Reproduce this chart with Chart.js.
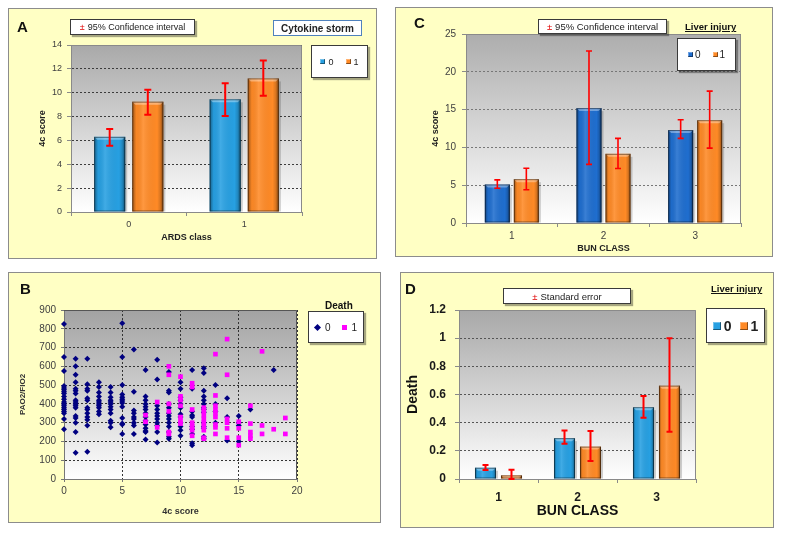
<!DOCTYPE html>
<html><head><meta charset="utf-8">
<script src="https://cdn.jsdelivr.net/npm/chart.js@4.4.0/dist/chart.umd.min.js"></script>
<style>
body{margin:0;width:785px;height:537px;background:#fff;position:relative;overflow:hidden;font-family:"Liberation Sans",Arial,sans-serif;}
.panel{position:absolute;background:#FFFFC4;border:1px solid #8c8c8c;box-sizing:border-box;}
canvas{position:absolute;}
.t{position:absolute;white-space:nowrap;color:#111;}
.box{position:absolute;background:#fff;border:1px solid #3a3a3a;box-shadow:2px 2px 1px rgba(0,0,0,0.35);box-sizing:border-box;display:flex;align-items:center;justify-content:center;white-space:nowrap;color:#222;}
.leg{gap:0;}
.item{display:flex;align-items:center;}
.sq{display:inline-block;}
.pm{color:#e00000;margin-right:3px;}
.ul{text-decoration:underline;font-weight:bold;}
</style></head><body>
<div class="panel" style="left:8px;top:8px;width:369px;height:251px"></div>
<div class="panel" style="left:395px;top:7px;width:378px;height:250px"></div>
<div class="panel" style="left:8px;top:272px;width:373px;height:251px"></div>
<div class="panel" style="left:400px;top:272px;width:374px;height:256px"></div>

<canvas id="cA" width="369" height="251" style="left:8px;top:8px"></canvas>
<canvas id="cC" width="378" height="250" style="left:395px;top:7px"></canvas>
<canvas id="cB" width="373" height="251" style="left:8px;top:272px"></canvas>
<canvas id="cD" width="374" height="256" style="left:400px;top:272px"></canvas>

<div class="t" style="left:17px;top:19px;font:bold 15px/15px 'Liberation Sans';">A</div>
<div class="t" style="left:414px;top:15px;font:bold 15px/15px 'Liberation Sans';">C</div>
<div class="t" style="left:20px;top:281px;font:bold 15px/15px 'Liberation Sans';">B</div>
<div class="t" style="left:405px;top:281px;font:bold 15px/15px 'Liberation Sans';">D</div>

<div class="box" style="left:70px;top:19px;width:125px;height:16px;font-size:9px;"><span class="pm">±</span>95% Confidence interval</div>
<div class="box" style="left:273px;top:20px;width:89px;height:16px;font-size:10px;font-weight:bold;border-color:#4f81bd;box-shadow:none;">Cytokine storm</div>
<div class="box leg" id="legA" style="left:311px;top:45px;width:57px;height:33px;font-size:9px;"></div>

<div class="box" style="left:538px;top:19px;width:129px;height:15px;font-size:9.5px;"><span class="pm">±</span>95% Confidence interval</div>
<div class="t ul" style="left:685px;top:21px;font-size:9.5px;line-height:12px;">Liver injury</div>
<div class="box leg" id="legC" style="left:677px;top:38px;width:59px;height:33px;font-size:10px;"></div>

<div class="t" style="left:325px;top:300px;font:bold 10px/12px 'Liberation Sans';">Death</div>
<div class="box leg" id="legB" style="left:308px;top:311px;width:56px;height:32px;font-size:10px;"></div>

<div class="box" style="left:503px;top:288px;width:128px;height:16px;font-size:9.5px;"><span class="pm">±</span>Standard error</div>
<div class="t ul" style="left:711px;top:283px;font-size:9.5px;line-height:12px;">Liver injury</div>
<div class="box leg" id="legD" style="left:706px;top:308px;width:59px;height:35px;font-size:14px;font-weight:bold;"></div>

<script>
// ---------- DATA ----------
// Panel A: 4c score by ARDS class, series = Cytokine storm 0 / 1 (mean ± 95% CI)
const ardsClasses = ['0', '1'];
const seriesNames = ['0', '1'];
const stormNo = [6.3, 9.45];
const stormNoLow = [5.55, 8.05];
const stormNoHigh = [6.95, 10.8];
const stormYes = [9.25, 11.2];
const stormYesLow = [8.15, 9.75];
const stormYesHigh = [10.25, 12.7];

// Panel C: 4c score by BUN class, series = Liver injury 0 / 1 (mean ± 95% CI)
const bunClasses = ['1', '2', '3'];
const liverNoScore = [5.1, 15.2, 12.3];
const liverNoScoreLow = [4.6, 7.75, 11.2];
const liverNoScoreHigh = [5.7, 22.75, 13.65];
const liverYesScore = [5.8, 9.15, 13.6];
const liverYesScoreLow = [4.4, 7.2, 9.9];
const liverYesScoreHigh = [7.25, 11.2, 17.45];

// Panel D: Death by BUN class, series = Liver injury 0 / 1 (mean ± SE)
const liverNoDeath = [0.08, 0.29, 0.51];
const liverNoDeathLow = [0.064, 0.25, 0.435];
const liverNoDeathHigh = [0.10, 0.345, 0.59];
const liverYesDeath = [0.026, 0.23, 0.663];
const liverYesDeathLow = [0.0, 0.128, 0.336];
const liverYesDeathHigh = [0.066, 0.34, 1.0];

// Panel B: PAO2/FIO2 vs 4c score, grouped by 4c score column (index = score)
const survivorsByScore = [
  [825,650,575,495,485,475,465,455,440,425,410,400,390,380,370,360,350,320,265],
  [640,600,555,515,480,470,455,420,410,400,390,380,335,325,300,250,140],
  [640,505,480,470,430,420,380,370,350,330,315,285,145],
  [515,490,460,440,420,410,400,390,380,360,345],
  [490,460,435,420,410,400,385,370,350,310,300,275],
  [830,650,500,450,435,425,415,405,385,325,295,290,240],
  [690,465,365,350,330,320,300,285,240],
  [580,440,420,400,385,370,350,330,310,290,270,255,250,210],
  [635,530,390,370,350,335,320,300,285,250,195],
  [570,470,460,400,380,350,335,320,300,280,250,225,215],
  [515,480,435,420,400,380,345,330,300,280,260,230],
  [580,480,360,340,330,280,265,240,190,180],
  [590,565,470,440,420,400,380,370,355,300,280,270,225,215],
  [500,400,360,300],
  [430,330,205],
  [335,300,285,200],
  [370],
  [],
  [580]
];
const deathsByScore = [
  [],[],[],[],[],[],[],
  [340,305],
  [410,275],
  [600,555,400,360,250,240],
  [545,440,420,390,330,310,295],
  [510,490,370,300,280,260,230],
  [380,360,340,320,300,280,260,220,215],
  [665,445,390,370,350,330,290,275,240],
  [745,555,320,300,270,220],
  [305,270,220,180],
  [390,295,250,230,215],
  [680,285,240],
  [265],
  [325,240]
];

// ---------- COLOURS ----------
const blueLight = '#27A0E2', blueDark = '#1F6ECF', orange = '#FF8A26';

// ---------- PLUGINS ----------
const plotBg = {
  id: 'plotbg',
  beforeDraw(chart, args, o) {
    const {ctx, chartArea: a} = chart;
    const g = ctx.createLinearGradient(0, a.top, 0, a.bottom);
    g.addColorStop(0, o.top);
    g.addColorStop(1, '#ffffff');
    ctx.save(); ctx.fillStyle = g; ctx.fillRect(a.left, a.top, a.right - a.left, a.bottom - a.top); ctx.restore();
  },
  beforeDatasetsDraw(chart, args, o) {
    const {ctx, chartArea: a} = chart;
    ctx.save(); ctx.strokeStyle = o.frame; ctx.lineWidth = 1;
    ctx.beginPath(); ctx.moveTo(a.left, a.top + 0.5); ctx.lineTo(a.right - 0.5, a.top + 0.5); ctx.lineTo(a.right - 0.5, a.bottom); ctx.stroke();
    ctx.restore();
  }
};
const barDeco = {
  id: 'bardeco',
  afterDatasetsDraw(chart, args, o) {
    const ctx = chart.ctx; const ys = chart.scales.y;
    ctx.save();
    chart.data.datasets.forEach((ds, di) => {
      const meta = chart.getDatasetMeta(di);
      meta.data.forEach((bar, i) => {
        const p = bar.getProps(['x', 'y', 'base', 'width'], true);
        const l = p.x - p.width / 2, r = p.x + p.width / 2, t = p.y, b = p.base;
        ctx.fillStyle = 'rgba(0,0,0,0.18)';
        ctx.fillRect(r, t + 3, 2, b - t - 3);
        const g = ctx.createLinearGradient(l, 0, r, 0);
        g.addColorStop(0, 'rgba(0,0,0,0.40)');
        g.addColorStop(0.13, 'rgba(0,0,0,0.03)');
        g.addColorStop(0.35, 'rgba(255,255,255,0.12)');
        g.addColorStop(0.8, 'rgba(0,0,0,0.0)');
        g.addColorStop(0.9, 'rgba(0,0,0,0.15)');
        g.addColorStop(1, 'rgba(0,0,0,0.50)');
        ctx.fillStyle = g; ctx.fillRect(l, t, p.width, b - t);
        ctx.fillStyle = 'rgba(255,255,255,0.35)';
        ctx.beginPath(); ctx.moveTo(l, t); ctx.lineTo(r, t); ctx.lineTo(r - 3, t + 3); ctx.lineTo(l + 3, t + 3); ctx.closePath(); ctx.fill();
        ctx.strokeStyle = 'rgba(0,0,0,0.45)'; ctx.lineWidth = 1;
        ctx.strokeRect(l + 0.5, t + 0.5, p.width - 1, b - t - 1);
      });
    });
    ctx.strokeStyle = '#ff0000'; ctx.lineWidth = o.w;
    chart.data.datasets.forEach((ds, di) => {
      const meta = chart.getDatasetMeta(di);
      meta.data.forEach((bar, i) => {
        const x = bar.x;
        const y1 = ys.getPixelForValue(ds.errHigh[i]);
        const y2 = ys.getPixelForValue(ds.errLow[i]);
        ctx.beginPath();
        ctx.moveTo(x, y1); ctx.lineTo(x, y2);
        ctx.moveTo(x - o.cap, y1); ctx.lineTo(x + o.cap, y1);
        ctx.moveTo(x - o.cap, y2); ctx.lineTo(x + o.cap, y2);
        ctx.stroke();
      });
    });
    ctx.restore();
  }
};

function barChart(id, c) {
  return new Chart(document.getElementById(id), {
    type: 'bar',
    data: {
      labels: c.labels,
      datasets: c.series.map(s => ({
        label: s.name, data: s.data, errLow: s.low, errHigh: s.high,
        backgroundColor: s.color, borderWidth: 0,
        categoryPercentage: c.catPct, barPercentage: c.barPct
      }))
    },
    options: {
      responsive: false, animation: false, devicePixelRatio: 1,
      layout: {padding: c.pad},
      plugins: {legend: {display: false}, tooltip: {enabled: false},
        plotbg: {top: c.bgTop, frame: c.frame}, bardeco: {w: c.errW, cap: c.cap}},
      scales: {
        x: {
          grid: {drawOnChartArea: false, drawTicks: true, tickLength: 4, color: '#8a8a8a', offset: true},
          border: {color: '#8a8a8a', width: 1},
          ticks: {font: c.xTickFont, color: c.tickColor, padding: c.xTickPad},
          title: {display: true, text: c.xTitle, font: c.xTitleFont, color: c.titleColor, padding: 0},
          afterFit(s) { s.height = c.xH; }
        },
        y: {
          min: c.yMin, max: c.yMax,
          ticks: {stepSize: c.yStep, font: c.yTickFont, color: c.tickColor, padding: c.yTickPad,
            callback: v => String(Math.round(v * 10) / 10)},
          grid: {color: c.gridColor, lineWidth: 1, tickLength: 4, tickColor: '#8a8a8a',
            drawTicks: true},
          border: {dash: [2, 2], color: '#8a8a8a', width: 1},
          title: {display: true, text: c.yTitle, font: c.yTitleFont, color: c.titleColor, padding: 0},
          afterFit(s) { s.width = c.yW; }
        }
      }
    },
    plugins: [plotBg, barDeco]
  });
}

const F = 'Liberation Sans';

barChart('cA', {
  labels: ardsClasses,
  series: [
    {name: seriesNames[0], data: stormNo, low: stormNoLow, high: stormNoHigh, color: blueLight},
    {name: seriesNames[1], data: stormYes, low: stormYesLow, high: stormYesHigh, color: orange}
  ],
  catPct: 0.66, barPct: 0.816,
  pad: {left: 29, top: 37, right: 75, bottom: 16}, xH: 31, yW: 34,
  yMin: 0, yMax: 14, yStep: 2,
  xTickFont: {family: F, size: 9}, yTickFont: {family: F, size: 9}, tickColor: '#404040',
  xTickPad: 3, yTickPad: 5,
  xTitle: 'ARDS class', yTitle: '4c score',
  xTitleFont: {family: F, size: 9, weight: 'bold'}, yTitleFont: {family: F, size: 9, weight: 'bold'},
  titleColor: '#222', gridColor: '#3c3c3c', bgTop: '#a9a9a9', frame: '#8a8a8a',
  errW: 2, cap: 3.5
});

barChart('cC', {
  labels: bunClasses,
  series: [
    {name: seriesNames[0], data: liverNoScore, low: liverNoScoreLow, high: liverNoScoreHigh, color: blueDark},
    {name: seriesNames[1], data: liverYesScore, low: liverYesScoreLow, high: liverYesScoreHigh, color: orange}
  ],
  catPct: 0.633, barPct: 0.862,
  pad: {left: 35, top: 27, right: 32, bottom: 3}, xH: 31, yW: 36,
  yMin: 0, yMax: 25, yStep: 5,
  xTickFont: {family: F, size: 10}, yTickFont: {family: F, size: 10}, tickColor: '#404040',
  xTickPad: 3, yTickPad: 6,
  xTitle: 'BUN CLASS', yTitle: '4c score',
  xTitleFont: {family: F, size: 9, weight: 'bold'}, yTitleFont: {family: F, size: 9, weight: 'bold'},
  titleColor: '#222', gridColor: '#777777', bgTop: '#adadad', frame: '#8a8a8a',
  errW: 1.6, cap: 3
});

barChart('cD', {
  labels: bunClasses,
  series: [
    {name: seriesNames[0], data: liverNoDeath, low: liverNoDeathLow, high: liverNoDeathHigh, color: blueLight},
    {name: seriesNames[1], data: liverYesDeath, low: liverYesDeathLow, high: liverYesDeathHigh, color: orange}
  ],
  catPct: 0.658, barPct: 0.81,
  pad: {left: 5, top: 38, right: 78, bottom: 8}, xH: 41, yW: 54,
  yMin: 0, yMax: 1.2, yStep: 0.2,
  xTickFont: {family: F, size: 12, weight: 'bold'}, yTickFont: {family: F, size: 12, weight: 'bold'}, tickColor: '#1a1a1a',
  xTickPad: 7, yTickPad: 9,
  xTitle: 'BUN CLASS', yTitle: 'Death',
  xTitleFont: {family: F, size: 14, weight: 'bold'}, yTitleFont: {family: F, size: 14, weight: 'bold'},
  titleColor: '#111', gridColor: '#555555', bgTop: '#a8a8a8', frame: '#8a8a8a',
  errW: 2, cap: 3
});

// Panel B scatter
function columnsToPoints(cols) {
  const pts = [];
  cols.forEach((vals, score) => vals.forEach(v => pts.push({x: score, y: v})));
  return pts;
}
new Chart(document.getElementById('cB'), {
  type: 'scatter',
  data: {
    datasets: [
      {label: '0', data: columnsToPoints(survivorsByScore), pointStyle: 'rectRot', radius: 3,
       backgroundColor: '#000080', borderColor: '#000080', borderWidth: 0, order: 1, clip: false},
      {label: '1', data: columnsToPoints(deathsByScore), pointStyle: 'rect', radius: 3.3,
       backgroundColor: '#FF00FF', borderColor: '#FF00FF', borderWidth: 0, order: 0, clip: false}
    ]
  },
  options: {
    responsive: false, animation: false, devicePixelRatio: 1,
    layout: {padding: {left: 10, top: 38, right: 84, bottom: 6}},
    plugins: {legend: {display: false}, tooltip: {enabled: false}, plotbg: {top: '#a2a2a2', frame: '#555'}},
    scales: {
      x: {
        type: 'linear', min: 0, max: 20,
        ticks: {stepSize: 5, font: {family: F, size: 10}, color: '#404040', padding: 3},
        grid: {color: '#333', tickLength: 3, tickColor: '#777'},
        border: {dash: [2, 2], color: '#777'},
        title: {display: true, text: '4c score', font: {family: F, size: 9, weight: 'bold'}, color: '#333', padding: 0},
        afterFit(s) { s.height = 38; }
      },
      y: {
        min: 0, max: 900,
        ticks: {stepSize: 100, font: {family: F, size: 10}, color: '#404040', padding: 5},
        grid: {color: '#333', tickLength: 3, tickColor: '#777'},
        border: {dash: [2, 2], color: '#777'},
        title: {display: true, text: 'PAO2/FIO2', font: {family: F, size: 8, weight: 'bold'}, color: '#333', padding: 0},
        afterFit(s) { s.width = 46; }
      }
    }
  },
  plugins: [plotBg]
});

// ---------- HTML legends ----------
function barLegend(id, colors, size, gap, spacing) {
  const el = document.getElementById(id);
  seriesNames.forEach((n, i) => {
    const it = document.createElement('span'); it.className = 'item';
    if (i > 0) it.style.marginLeft = spacing + 'px';
    const sq = document.createElement('span'); sq.className = 'sq';
    sq.style.cssText = `width:${size}px;height:${size}px;background:${colors[i]};box-shadow:inset -1px -1px 0 rgba(0,0,0,0.45), inset 1px 1px 0 rgba(255,255,255,0.35);margin-right:${gap}px;`;
    it.appendChild(sq); it.appendChild(document.createTextNode(n));
    el.appendChild(it);
  });
}
barLegend('legA', [blueLight, orange], 5, 3, 12);
barLegend('legC', [blueDark, orange], 5, 2, 12);
barLegend('legD', [blueLight, orange], 8, 3, 8);
(function () {
  const el = document.getElementById('legB');
  el.innerHTML = '<span class="item"><span class="sq" style="width:5px;height:5px;background:#000080;transform:rotate(45deg);margin-right:5px"></span>0</span>' +
    '<span class="item" style="margin-left:11px"><span class="sq" style="width:5px;height:5px;background:#FF00FF;margin-right:5px"></span>1</span>';
})();
</script>
</body></html>
